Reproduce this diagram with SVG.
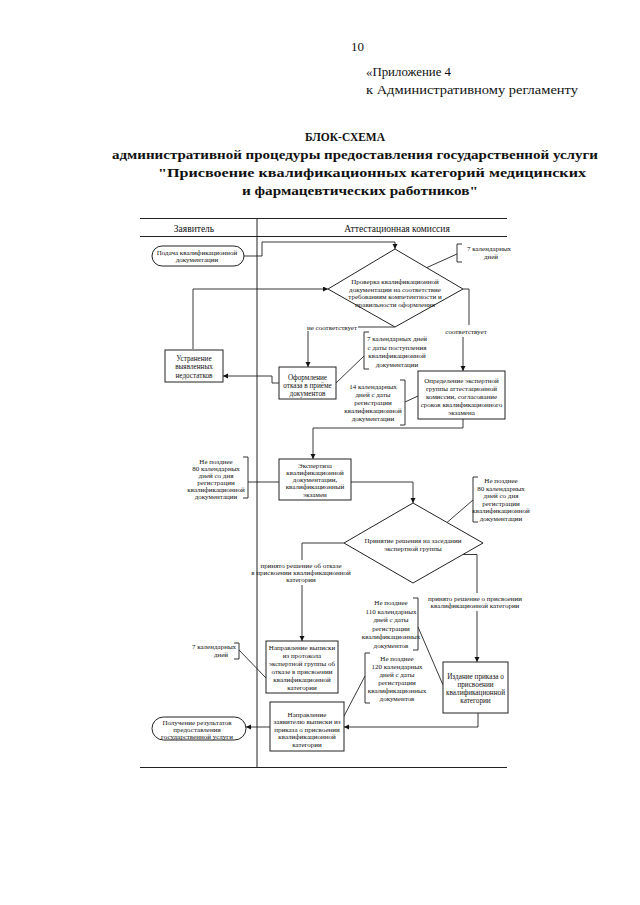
<svg xmlns="http://www.w3.org/2000/svg" width="640" height="905" viewBox="0 0 640 905">
<defs>
<style>
.h{font-family:"Liberation Serif","Times New Roman",serif;fill:#111}
.hb{font-family:"Liberation Serif","Times New Roman",serif;fill:#111;font-weight:bold;text-anchor:middle}
.t{font-family:"Liberation Serif","Times New Roman",serif;font-size:7.2px;fill:#111;text-anchor:middle}
.s{font-family:"Liberation Serif","Times New Roman",serif;font-size:7px;fill:#111;text-anchor:middle}
.hd{font-family:"Liberation Serif","Times New Roman",serif;font-size:9.5px;fill:#111;text-anchor:middle}
.box{fill:#fff;stroke:#222;stroke-width:1}
.ln{fill:none;stroke:#222;stroke-width:0.9}
.br{fill:none;stroke:#333;stroke-width:1}
.tb{fill:none;stroke:#222;stroke-width:1}
</style>
<marker id="ah" markerUnits="userSpaceOnUse" markerWidth="6" markerHeight="6" refX="5" refY="2.5" orient="auto">
<path d="M0,0 L5,2.5 L0,5 z" fill="#111"/>
</marker>
</defs>
<rect width="640" height="905" fill="#fff"/>

<g id="page-header">
<text class="h" x="351" y="51" font-size="13">10</text>
<text class="h" x="366" y="76" font-size="13" textLength="85" lengthAdjust="spacingAndGlyphs">«Приложение 4</text>
<text class="h" x="366" y="94" font-size="13" textLength="212" lengthAdjust="spacingAndGlyphs">к Административному регламенту</text>
<text class="hb" x="345" y="141" font-size="13" textLength="80" lengthAdjust="spacingAndGlyphs">БЛОК-СХЕМА</text>
<text class="hb" x="355" y="159" font-size="13" textLength="486" lengthAdjust="spacingAndGlyphs">административной процедуры предоставления государственной услуги</text>
<text class="hb" x="372" y="177" font-size="13" textLength="428" lengthAdjust="spacingAndGlyphs">"Присвоение квалификационных категорий медицинских</text>
<text class="hb" x="360" y="195" font-size="13" textLength="236" lengthAdjust="spacingAndGlyphs">и фармацевтических работников"</text>
</g>

<g id="table">
<line class="tb" x1="140" y1="218.5" x2="507" y2="218.5"/>
<line class="tb" x1="140" y1="236.5" x2="507" y2="236.5"/>
<line class="tb" x1="140" y1="767.5" x2="507" y2="767.5"/>
<line class="tb" x1="257" y1="218" x2="257" y2="768"/>
<text class="hd" x="194" y="232">Заявитель</text>
<text class="hd" x="397" y="232">Аттестационная комиссия</text>
</g>

<g id="connectors">
<path class="ln" d="M244,256 H262 V242 H395 V249" marker-end="url(#ah)"/>
<path class="ln" d="M193,349 V289 H328" marker-end="url(#ah)"/>
<line class="ln" x1="457" y1="254" x2="427" y2="267.5"/>
<path class="ln" d="M395,327 H358"/>
<path class="ln" d="M308,331 V367" marker-end="url(#ah)"/>
<path class="ln" d="M463,289 H469 V325"/>
<path class="ln" d="M463,337 V371" marker-end="url(#ah)"/>
<line class="ln" x1="364" y1="356" x2="336" y2="383"/>
<path class="ln" d="M279,383 H272 V376 H223" marker-end="url(#ah)"/>
<line class="ln" x1="405" y1="402" x2="418" y2="396"/>
<path class="ln" d="M463,419 V428 H313 V459" marker-end="url(#ah)"/>
<line class="ln" x1="248" y1="482" x2="279" y2="482"/>
<path class="ln" d="M351,482 H413 V503" marker-end="url(#ah)"/>
<line class="ln" x1="473" y1="500" x2="447" y2="522.5"/>
<path class="ln" d="M344,543 H302 V560"/>
<path class="ln" d="M302,585 V641" marker-end="url(#ah)"/>
<path class="ln" d="M463,554.5 H477 V593"/>
<path class="ln" d="M477,611 V662" marker-end="url(#ah)"/>
<line class="ln" x1="418" y1="627" x2="443" y2="685"/>
<line class="ln" x1="365" y1="676" x2="343" y2="718"/>
<line class="ln" x1="239" y1="650" x2="266" y2="678"/>
<path class="ln" d="M478,713 V727 H344" marker-end="url(#ah)"/>
<path class="ln" d="M270,727 H246" marker-end="url(#ah)"/>
</g>

<g id="n-submit">
<rect class="box" x="152" y="246" width="92" height="20" rx="10"/>
<text class="s" x="197" y="254.5">Подача квалификационной</text>
<text class="s" x="197" y="262">документации</text>
</g>

<g id="n-check">
<polygon class="box" points="395,249 463,289 395,327 328,289"/>
<text class="s" x="395" y="284">Проверка квалификационной</text>
<text class="s" x="395" y="291.5">документации на соответствие</text>
<text class="s" x="395" y="299">требованиям компетентности и</text>
<text class="s" x="395" y="306.5">правильности оформления</text>
</g>

<g id="lbl-no"><text class="s" x="332" y="329.5">не соответствует</text></g>
<g id="lbl-yes"><text class="s" x="466" y="333.5">соответствует</text></g>

<g id="note-7days-top">
<path class="br" d="M462,244 H457 V262 H462"/>
<text class="s" x="489" y="251">7 календарных</text>
<text class="s" x="491" y="259">дней</text>
</g>

<g id="n-fix">
<rect class="box" x="165" y="350" width="58" height="32"/>
<text class="t" x="194" y="360.5">Устранение</text>
<text class="t" x="194" y="369">выявленных</text>
<text class="t" x="194" y="377.5">недостатков</text>
</g>

<g id="n-refuse">
<rect class="box" x="279" y="367" width="57" height="32"/>
<text class="t" x="307.5" y="379.5">Оформление</text>
<text class="t" x="307.5" y="387.5">отказа в приёме</text>
<text class="t" x="307.5" y="395.5">документов</text>
</g>

<g id="note-7days-receipt">
<path class="br" d="M369,332 H364 V369 H369"/>
<text class="s" x="397" y="341">7 календарных дней</text>
<text class="s" x="397" y="349.5">с даты поступления</text>
<text class="s" x="397" y="358">квалификационной</text>
<text class="s" x="397" y="366.5">документации</text>
</g>

<g id="n-group">
<rect class="box" x="418" y="371" width="87" height="48"/>
<text class="s" x="461.5" y="382.5">Определение экспертной</text>
<text class="s" x="461.5" y="390.8">группы аттестационной</text>
<text class="s" x="461.5" y="398.6">комиссии, согласование</text>
<text class="s" x="461.5" y="406.5">сроков квалификационного</text>
<text class="s" x="461.5" y="414.6">экзамена</text>
</g>

<g id="note-14days">
<path class="br" d="M400,380 H405 V425 H400"/>
<text class="s" x="373" y="388.5">14 календарных</text>
<text class="s" x="373" y="396.5">дней с даты</text>
<text class="s" x="373" y="404.5">регистрации</text>
<text class="s" x="373" y="413">квалификационной</text>
<text class="s" x="373" y="421">документации</text>
</g>

<g id="n-exam">
<rect class="box" x="279" y="459" width="72" height="41"/>
<text class="s" x="315" y="467.5">Экспертиза</text>
<text class="s" x="315" y="474.8">квалификационной</text>
<text class="s" x="315" y="482.1">документации,</text>
<text class="s" x="315" y="489.4">квалификационный</text>
<text class="s" x="315" y="496.7">экзамен</text>
</g>

<g id="note-80days-left">
<path class="br" d="M243,457 H248 V498 H243"/>
<text class="s" x="216" y="464">Не позднее</text>
<text class="s" x="216" y="471">80 календарных</text>
<text class="s" x="216" y="478">дней со дня</text>
<text class="s" x="216" y="485">регистрации</text>
<text class="s" x="216" y="492">квалификационной</text>
<text class="s" x="216" y="499">документации</text>
</g>

<g id="n-decision">
<polygon class="box" points="413,503 483,543 413,583 344,543"/>
<text class="s" x="413" y="542.5">Принятие решения на заседании</text>
<text class="s" x="413" y="550.5">экспертной группы</text>
</g>

<g id="note-80days-right">
<path class="br" d="M478,477 H473 V522 H478"/>
<text class="s" x="501" y="483">Не позднее</text>
<text class="s" x="501" y="490.5">80 календарных</text>
<text class="s" x="501" y="498">дней со дня</text>
<text class="s" x="501" y="505.5">регистрации</text>
<text class="s" x="501" y="513">квалификационной</text>
<text class="s" x="501" y="520.5">документации</text>
</g>

<g id="lbl-refused">
<text class="s" x="301" y="568">принято решение об отказе</text>
<text class="s" x="301" y="575">в присвоении квалификационной</text>
<text class="s" x="301" y="582">категории</text>
</g>

<g id="lbl-granted">
<text class="s" x="475" y="601">принято решение о присвоении</text>
<text class="s" x="475" y="608">квалификационной категории</text>
</g>

<g id="note-110days">
<path class="br" d="M413,598 H418 V650 H413"/>
<text class="s" x="391" y="605">Не позднее</text>
<text class="s" x="391" y="613.5">110 календарных</text>
<text class="s" x="391" y="622">дней с даты</text>
<text class="s" x="391" y="630.5">регистрации</text>
<text class="s" x="391" y="639">квалификационных</text>
<text class="s" x="391" y="647.5">документов</text>
</g>

<g id="n-order">
<rect class="box" x="443" y="662" width="65" height="51"/>
<text class="t" x="475.5" y="679">Издание приказа о</text>
<text class="t" x="475.5" y="687">присвоении</text>
<text class="t" x="475.5" y="695">квалификационной</text>
<text class="t" x="475.5" y="703">категории</text>
</g>

<g id="note-120days">
<path class="br" d="M370,653 H365 V703 H370"/>
<text class="s" x="397" y="661">Не позднее</text>
<text class="s" x="397" y="669">120 календарных</text>
<text class="s" x="397" y="677">дней с даты</text>
<text class="s" x="397" y="685">регистрации</text>
<text class="s" x="397" y="693">квалификационных</text>
<text class="s" x="397" y="701">документов</text>
</g>

<g id="n-refusal-extract">
<rect class="box" x="266" y="641" width="72" height="52"/>
<text class="s" x="302" y="649.5">Направление выписки</text>
<text class="s" x="302" y="657.5">из протокола</text>
<text class="s" x="302" y="665.5">экспертной группы об</text>
<text class="s" x="302" y="673.5">отказе в присвоении</text>
<text class="s" x="302" y="681.5">квалификационной</text>
<text class="s" x="302" y="689.5">категории</text>
</g>

<g id="note-7days-bottom">
<path class="br" d="M234,643 H239 V659 H234"/>
<text class="s" x="214" y="648.5">7 календарных</text>
<text class="s" x="221" y="656.5">дней</text>
</g>

<g id="n-order-extract">
<rect class="box" x="270" y="702" width="74" height="49"/>
<text class="s" x="307" y="716.5">Направление</text>
<text class="s" x="307" y="724">заявителю выписки из</text>
<text class="s" x="307" y="731.5">приказа о присвоении</text>
<text class="s" x="307" y="739">квалификационной</text>
<text class="s" x="307" y="746.5">категории</text>
</g>

<g id="n-result">
<rect class="box" x="152" y="717" width="94" height="23" rx="11.5"/>
<text class="s" x="197" y="724.5">Получение результатов</text>
<text class="s" x="197" y="731.5">предоставления</text>
<text class="s" x="197" y="738.5">государственной услуги</text>
</g>
</svg>
